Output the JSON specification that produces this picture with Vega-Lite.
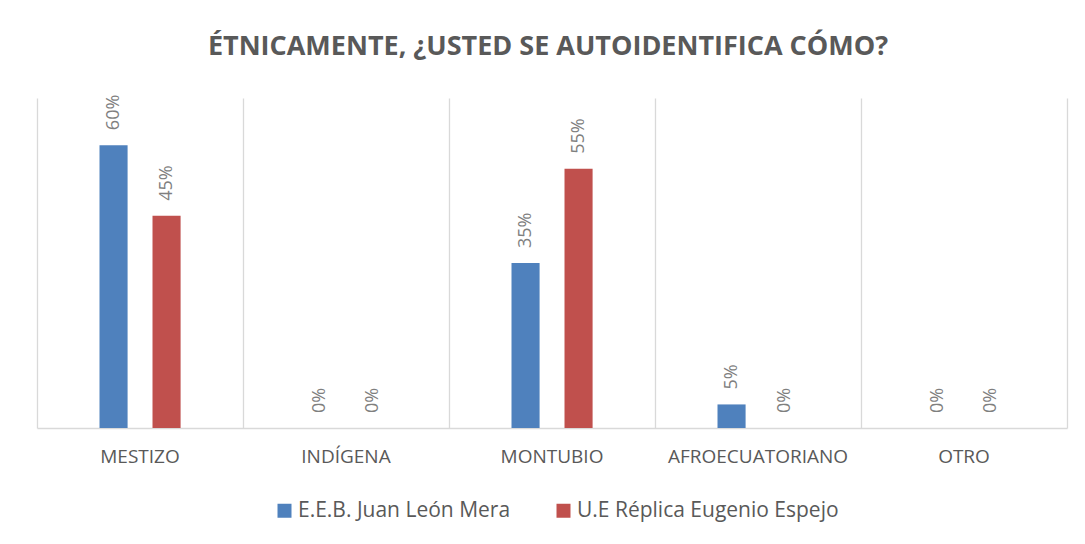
{
  "$schema": "https://vega.github.io/schema/vega-lite/v6.json",
  "width": 1030,
  "height": 330,
  "autosize": "none",
  "padding": {"left": 37, "top": 98, "right": 18, "bottom": 116},
  "background": "white",
  "title": {
    "text": "ÉTNICAMENTE, ¿USTED SE AUTOIDENTIFICA CÓMO?",
    "font": "Open Sans",
    "fontSize": 27,
    "fontWeight": "bold",
    "color": "#595959",
    "anchor": "middle",
    "frame": "group",
    "baseline": "alphabetic",
    "offset": 13,
    "dx": -4
  },
  "data": {
    "values": [
      {"categoria": "MESTIZO", "escuela": "E.E.B. Juan León Mera", "valor": 0.60},
      {"categoria": "MESTIZO", "escuela": "U.E Réplica Eugenio Espejo", "valor": 0.45},
      {"categoria": "INDÍGENA", "escuela": "E.E.B. Juan León Mera", "valor": 0},
      {"categoria": "INDÍGENA", "escuela": "U.E Réplica Eugenio Espejo", "valor": 0},
      {"categoria": "MONTUBIO", "escuela": "E.E.B. Juan León Mera", "valor": 0.35},
      {"categoria": "MONTUBIO", "escuela": "U.E Réplica Eugenio Espejo", "valor": 0.55},
      {"categoria": "AFROECUATORIANO", "escuela": "E.E.B. Juan León Mera", "valor": 0.05},
      {"categoria": "AFROECUATORIANO", "escuela": "U.E Réplica Eugenio Espejo", "valor": 0},
      {"categoria": "OTRO", "escuela": "E.E.B. Juan León Mera", "valor": 0},
      {"categoria": "OTRO", "escuela": "U.E Réplica Eugenio Espejo", "valor": 0}
    ]
  },
  "encoding": {
    "x": {
      "field": "categoria",
      "type": "nominal",
      "sort": null,
      "scale": {"paddingInner": 0, "paddingOuter": 0},
      "axis": {
        "title": null,
        "labelAngle": 0,
        "labelFont": "Open Sans",
        "labelFontSize": 19,
        "labelColor": "#595959",
        "labelPadding": 19,
        "labelLimit": 0,
        "ticks": false,
        "domainColor": "#D9D9D9",
        "domainWidth": 1.5,
        "grid": true,
        "gridColor": "#D9D9D9",
        "gridWidth": 1.3,
        "bandPosition": 0
      }
    },
    "xOffset": {
      "field": "escuela",
      "type": "nominal",
      "sort": ["E.E.B. Juan León Mera", "U.E Réplica Eugenio Espejo"],
      "scale": {"range": [62.5, 143.6], "paddingInner": 0.47, "paddingOuter": 0}
    },
    "y": {
      "field": "valor",
      "type": "quantitative",
      "scale": {"domain": [0, 0.7], "nice": false},
      "axis": {
        "orient": "right",
        "title": null,
        "labels": false,
        "ticks": false,
        "grid": false,
        "domain": true,
        "domainColor": "#D9D9D9",
        "domainWidth": 1.3
      }
    }
  },
  "layer": [
    {
      "mark": {"type": "bar"},
      "encoding": {
        "color": {
          "field": "escuela",
          "type": "nominal",
          "sort": ["E.E.B. Juan León Mera", "U.E Réplica Eugenio Espejo"],
          "scale": {
            "domain": ["E.E.B. Juan León Mera", "U.E Réplica Eugenio Espejo"],
            "range": ["#4F81BD", "#C0504D"]
          },
          "legend": {
            "title": null,
            "orient": "none",
            "legendX": 237,
            "legendY": 402,
            "direction": "horizontal",
            "symbolType": "square",
            "symbolSize": 196,
            "symbolStrokeWidth": 0,
            "labelFont": "Open Sans",
            "labelFontSize": 21,
            "labelColor": "#595959",
            "labelOffset": 3,
            "columnPadding": 42,
            "labelLimit": 400
          }
        }
      }
    },
    {
      "mark": {
        "type": "text",
        "angle": -90,
        "align": "left",
        "baseline": "middle",
        "dx": 15,
        "font": "Open Sans",
        "fontSize": 18,
        "color": "#7F7F7F"
      },
      "encoding": {
        "text": {"field": "valor", "type": "quantitative", "format": ".0%"}
      }
    }
  ],
  "config": {
    "view": {"stroke": null}
  }
}
